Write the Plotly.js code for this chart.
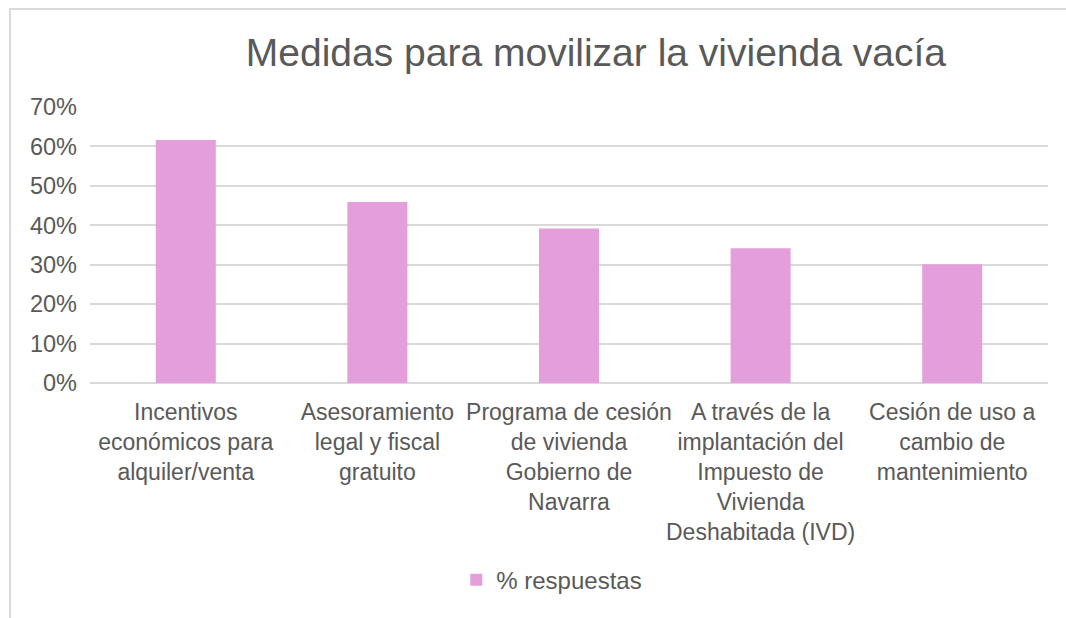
<!DOCTYPE html>
<html>
<head>
<meta charset="utf-8">
<script src="https://cdn.plot.ly/plotly-3.0.1.min.js"></script>
<style>
html,body{margin:0;padding:0;background:#fff;}
#wrap{position:relative;width:1066px;height:618px;}
#chart{position:absolute;left:0;top:0;width:1066px;height:618px;}
#frame{position:absolute;left:9px;top:8px;width:1057px;height:610px;border-left:2px solid #d9d9d9;border-top:2px solid #d9d9d9;pointer-events:none;}
</style>
</head>
<body>
<div id="wrap"><div id="chart"></div><div id="frame"></div></div>
<script>
const categories = [
  "Incentivos<br>económicos para<br>alquiler/venta",
  "Asesoramiento<br>legal y fiscal<br>gratuito",
  "Programa de cesión<br>de vivienda<br>Gobierno de<br>Navarra",
  "A través de la<br>implantación del<br>Impuesto de<br>Vivienda<br>Deshabitada (IVD)",
  "Cesión de uso a<br>cambio de<br>mantenimiento"
];
const values = [61.6, 45.9, 39.2, 34.2, 30.1];
const seriesName = "% respuestas";
const titleText = "Medidas para movilizar la vivienda vacía";
const yTickVals = [0, 10, 20, 30, 40, 50, 60, 70];
const yTickText = ["0%", "10%", "20%", "30%", "40%", "50%", "60%", "70%"];

const textColor = "#595959";
const font = "Liberation Sans, Arial, sans-serif";

Plotly.newPlot("chart", [{
  type: "bar",
  x: categories,
  y: values,
  name: seriesName,
  marker: {color: "#e39edb"},
  showlegend: true,
  hoverinfo: "y"
}], {
  width: 1066,
  height: 618,
  margin: {l: 90, r: 18, t: 107, b: 235},
  paper_bgcolor: "rgba(0,0,0,0)",
  plot_bgcolor: "#ffffff",
  bargap: 0.687,
  font: {family: font, color: textColor, size: 24},
  title: {
    text: titleText,
    font: {family: font, size: 39, color: textColor},
    x: 0.559, xanchor: "center", xref: "container",
    y: 0.916, yanchor: "middle", yref: "container"
  },
  xaxis: {
    type: "category",
    showgrid: false,
    zeroline: false,
    showline: false,
    ticks: "",
    tickfont: {family: font, size: 23, color: textColor},
    tickangle: 0,
    ticklabelstandoff: 13
  },
  yaxis: {
    range: [0, 70],
    tickvals: yTickVals,
    ticktext: yTickText,
    showgrid: true,
    gridcolor: "#d9d9d9",
    gridwidth: 2,
    zeroline: true,
    zerolinecolor: "#d9d9d9",
    zerolinewidth: 2,
    showline: false,
    ticks: "",
    tickfont: {family: font, size: 23.5, color: textColor},
    ticklabelstandoff: 12
  },
  legend: {
    orientation: "h",
    x: 0.482, xanchor: "center",
    y: -0.714, yanchor: "middle",
    font: {family: font, size: 24, color: textColor},
    itemwidth: 30
  }
}, {displayModeBar: false, staticPlot: true});
</script>
</body>
</html>
